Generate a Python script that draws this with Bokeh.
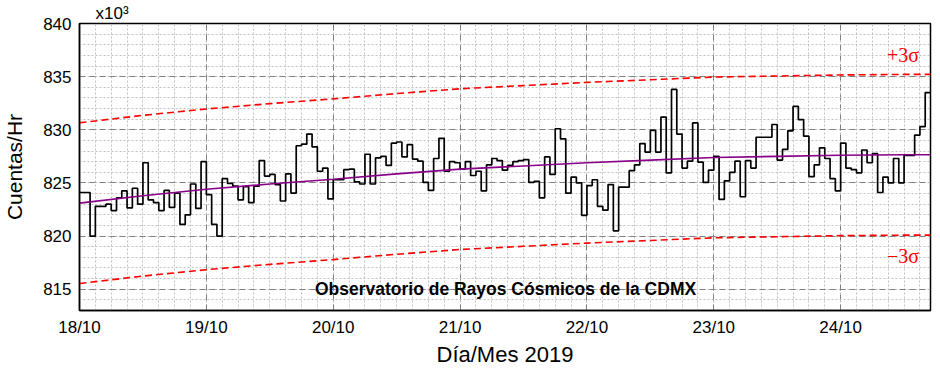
from bokeh.plotting import figure
from bokeh.models import FixedTicker, Range1d
from bokeh.core.properties import value
from bokeh.embed import file_html
from bokeh.resources import INLINE

# ---------------- data ----------------
day_labels = ["18/10", "19/10", "20/10", "21/10", "22/10", "23/10", "24/10"]
day_hours = [0, 24, 48, 72, 96, 120, 144]

# hourly counts (x10^3 counts/hr), starting 18/10 00:00
counts_k = [
    824.1, 824.1, 820.0, 822.8, 822.8, 823.0, 822.4, 823.6, 824.25, 822.65, 824.5, 823.0,
    826.9, 823.4, 823.15, 822.4, 824.3, 822.7, 824.05, 821.1, 822.0, 824.9, 822.6, 827.0,
    823.9, 821.1, 820.0, 825.4, 824.95, 824.7, 823.4, 824.65, 823.15, 824.7, 827.1, 825.65,
    825.8, 824.85, 823.3, 825.85, 824.05, 828.5, 828.65, 829.6, 828.4, 826.1, 826.4, 823.5,
    825.3, 825.3, 826.25, 826.3, 825.1, 824.9, 827.7, 824.9, 827.35, 827.5, 826.65, 828.75,
    828.85, 827.45, 828.6, 827.25, 827.05, 825.05, 824.3, 827.3, 829.2, 826.1, 827.0, 826.9,
    826.3, 827.0, 825.7, 826.1, 824.25, 826.7, 827.3, 827.1, 826.2, 826.65, 827.0, 827.1,
    827.2, 825.05, 825.15, 823.6, 827.45, 825.8, 830.1, 829.15, 824.05, 825.55, 825.0, 821.95,
    824.75, 825.3, 822.8, 822.45, 824.85, 820.5, 824.6, 824.6, 826.15, 826.7, 828.7, 827.9,
    829.95, 827.9, 831.2, 825.95, 833.8, 829.6, 826.4, 827.05, 830.65, 826.95, 825.05, 826.2,
    827.5, 823.45, 825.2, 826.0, 827.05, 823.7, 827.1, 826.4, 829.3, 829.3, 829.3, 830.5,
    827.15, 828.15, 829.9, 832.2, 830.95, 829.4, 825.6, 826.7, 828.3, 827.3, 825.4, 824.25,
    828.75, 826.4, 826.25, 825.95, 828.1, 826.9, 827.75, 824.1, 825.55, 825.0, 827.3, 825.0,
    827.6, 827.6, 829.5, 830.3, 833.5,
]

# fitted trend
trend_hours = [0, 12, 24, 36, 48, 60, 72, 84, 96, 108, 120, 132, 144, 156, 161]
trend_k = [823.1, 823.8, 824.4, 824.9, 825.35, 825.85, 826.3, 826.6, 826.9, 827.15,
           827.4, 827.5, 827.6, 827.65, 827.65]
sigma_k = 2.52

y_ticks = [815, 820, 825, 830, 835, 840]
y_minor = list(range(813, 841))
x_minor = list(range(0, 162, 3))

# ---------------- figure ----------------
n = len(counts_k)
step_x = list(range(n + 1))
step_y = counts_k + [counts_k[-1]]
upper = [t + 3 * sigma_k for t in trend_k]
lower = [t - 3 * sigma_k for t in trend_k]

p = figure(width=936, height=379, output_backend="svg", toolbar_location=None,
           x_range=Range1d(0, n), y_range=Range1d(813, 840),
           min_border_left=79, min_border_right=6, min_border_top=23, min_border_bottom=69)
p.background_fill_color = "white"
p.border_fill_color = "white"
p.outline_line_color = "black"
p.outline_line_width = 1.5

p.title.text = "x10³"
p.title.align = "left"
p.title.offset = 16
p.title.standoff = 2
p.title.text_font = "Liberation Sans"
p.title.text_font_size = "17px"
p.title.text_font_style = "normal"
p.title.text_color = "black"

# grids
for g in (p.xgrid, p.ygrid):
    g.grid_line_color = "#808080"
    g.grid_line_dash = "6 4"
    g.grid_line_width = 1
    g.minor_grid_line_color = "#c0c0c0"
    g.minor_grid_line_dash = "2 2"
    g.minor_grid_line_width = 1

p.xaxis.ticker = FixedTicker(ticks=day_hours, minor_ticks=x_minor)
p.yaxis.ticker = FixedTicker(ticks=y_ticks, minor_ticks=y_minor)
p.xaxis.major_label_overrides = {h: lab for h, lab in zip(day_hours, day_labels)}

for ax in (p.xaxis, p.yaxis):
    ax.axis_line_color = "black"
    ax.axis_line_width = 1.5
    ax.major_tick_out = 0
    ax.major_tick_in = 0
    ax.minor_tick_out = 0
    ax.minor_tick_in = 0
    ax.major_label_text_font = "Liberation Sans"
    ax.major_label_text_font_size = "17px"
    ax.major_label_text_color = "black"
    ax.axis_label_text_font = "Liberation Sans"
    ax.axis_label_text_font_style = "normal"
    ax.axis_label_text_color = "black"

p.xaxis.major_label_standoff = 7
p.yaxis.major_label_standoff = 8

p.xaxis.axis_label = "Día/Mes 2019"
p.xaxis.axis_label_text_font_size = "22px"
p.xaxis.axis_label_standoff = 2

p.yaxis.axis_label = "Cuentas/Hr"
p.yaxis.axis_label_text_font_size = "21px"
p.yaxis.axis_label_standoff = 14

# series
p.line(trend_hours, upper, line_color="#ff0000", line_width=1.6, line_dash="7 4")
p.line(trend_hours, lower, line_color="#ff0000", line_width=1.6, line_dash="7 4")
p.step(step_x, step_y, mode="after", line_color="black", line_width=1.7)
p.line(trend_hours, trend_k, line_color="#880088", line_width=1.6)

p.text(x=[80.6], y=[815.0], text=["Observatorio de Rayos Cósmicos de la CDMX"],
       text_font=value("Liberation Sans"), text_font_style="bold", text_font_size="17.5px",
       text_align="center", text_baseline="middle", text_color="black")
p.text(x=[155.8, 155.8], y=[837.0, 818.1], text=["+3σ", "−3σ"],
       text_font=value("Liberation Serif"), text_font_size="20px",
       text_align="center", text_baseline="middle", text_color="#ff0000")

open("out.html", "w").write(file_html(p, INLINE))
